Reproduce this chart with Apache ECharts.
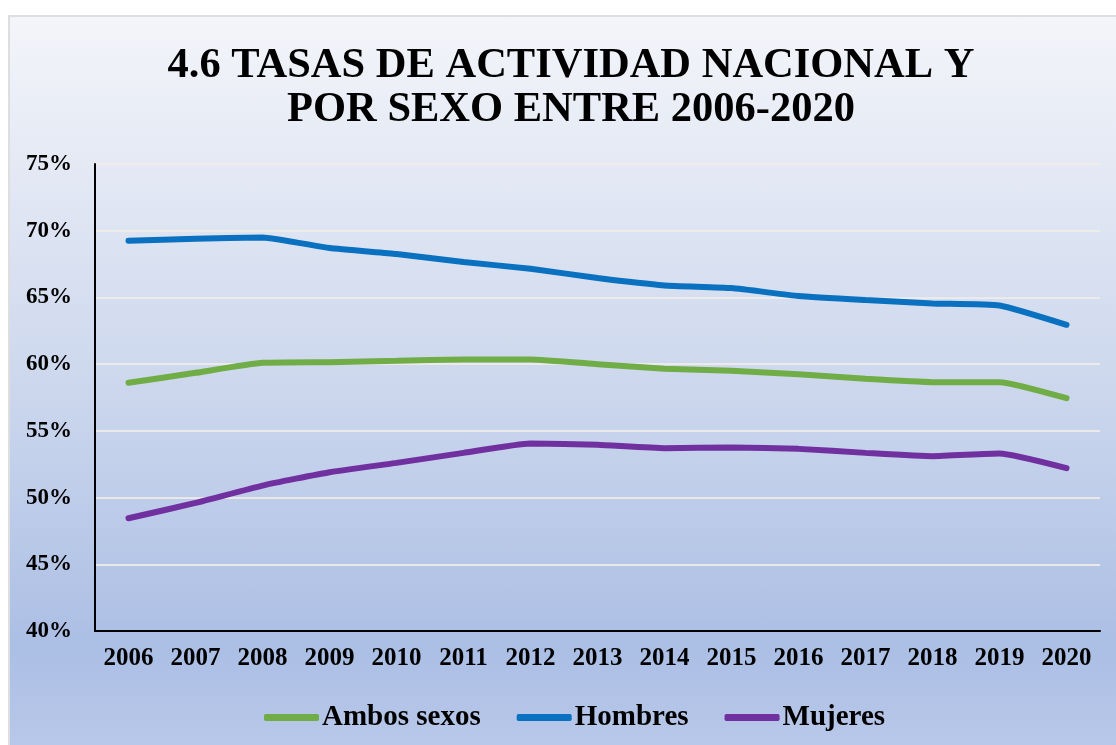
<!DOCTYPE html>
<html>
<head>
<meta charset="utf-8">
<script src="https://cdn.jsdelivr.net/npm/echarts@6/dist/echarts.min.js"></script>
<style>
  html, body { margin: 0; padding: 0; background: #fff; overflow: hidden; }
  /* marco con degradado, como el gráfico de Excel */
  #frame {
    position: absolute; left: 8px; top: 15px; width: 1120px; height: 740px;
    border: 2px solid #dedede;
    background: linear-gradient(to bottom, #f4f5fa 0%, #e0e6f3 25%, #c8d4ec 55%, #abbee4 85%, #b9c9ea 100%);
  }
  #chart { position: absolute; left: 0; top: 0; width: 1116px; height: 745px; }
</style>
</head>
<body>
<div id="frame"></div>
<div id="chart"></div>
<script>
  // datos (porcentajes)
  const years = ['2006', '2007', '2008', '2009', '2010', '2011', '2012', '2013', '2014', '2015', '2016', '2017', '2018', '2019', '2020']
  const ambosSexos = [58.6, 59.35, 60.1, 60.15, 60.25, 60.35, 60.35, 60.0, 59.65, 59.5, 59.25, 58.9, 58.65, 58.65, 57.45]
  const hombres = [69.25, 69.4, 69.5, 68.7, 68.25, 67.65, 67.15, 66.45, 65.9, 65.7, 65.1, 64.8, 64.55, 64.4, 62.95]
  const mujeres = [48.45, 49.6, 50.9, 51.9, 52.6, 53.35, 54.05, 53.95, 53.7, 53.75, 53.65, 53.35, 53.1, 53.3, 52.2]

  const serif = '"Liberation Serif", "Times New Roman", serif'

  const chart = echarts.init(document.getElementById('chart'))

  const mkLine = (name, data, color) => ({
    name,
    type: 'line',
    data,
    smooth: 0.15,
    showSymbol: false,
    symbol: 'none',
    lineStyle: { width: 6, color, cap: 'round' },
    itemStyle: { color }
  })

  chart.setOption({
    backgroundColor: 'transparent',
    animation: false,
    title: {
      text: '4.6 TASAS DE ACTIVIDAD NACIONAL Y\nPOR SEXO ENTRE 2006-2020',
      left: 566,
      textAlign: 'center',
      top: 39,
      textStyle: {
        fontFamily: serif,
        fontWeight: 'bold',
        fontSize: 42.5,
        lineHeight: 44,
        color: '#000'
      }
    },
    legend: {
      left: 259,
      top: 698,
      icon: 'roundRect',
      itemWidth: 55,
      itemHeight: 7,
      itemGap: 36,
      textStyle: {
        fontFamily: serif,
        fontWeight: 'bold',
        fontSize: 29,
        color: '#000',
        padding: [0, 0, 0, -2]
      },
      data: ['Ambos sexos', 'Hombres', 'Mujeres']
    },
    grid: {
      left: 95,
      right: 16,
      top: 164,
      bottom: 114,
      containLabel: false
    },
    xAxis: {
      type: 'category',
      data: years,
      boundaryGap: true,
      axisLine: { show: true, lineStyle: { color: '#000', width: 2 } },
      axisTick: { show: false },
      axisLabel: {
        margin: 15,
        fontFamily: serif,
        fontWeight: 'bold',
        fontSize: 25,
        color: '#000'
      }
    },
    yAxis: {
      type: 'value',
      min: 40,
      max: 75,
      interval: 5,
      axisLine: { show: true, lineStyle: { color: '#000', width: 2 } },
      axisTick: { show: false },
      splitLine: { lineStyle: { color: 'rgba(240,236,232,0.9)', width: 2 } },
      axisLabel: {
        margin: 23,
        formatter: '{value}%',
        fontFamily: serif,
        fontWeight: 'bold',
        fontSize: 23,
        color: '#000'
      }
    },
    series: [
      mkLine('Ambos sexos', ambosSexos, '#70ad47'),
      mkLine('Hombres', hombres, '#0a70c0'),
      mkLine('Mujeres', mujeres, '#7030a0')
    ]
  })
</script>
</body>
</html>
